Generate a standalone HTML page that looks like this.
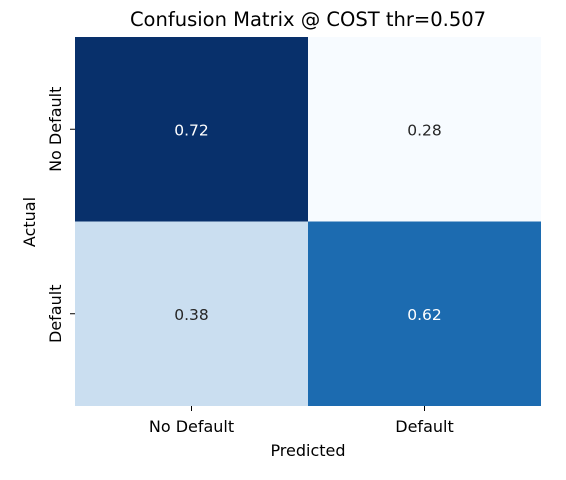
<!DOCTYPE html>
<html><head><meta charset="utf-8"><style>
body{margin:0;background:#fff;}
svg text{font-family:"DejaVu Sans","Liberation Sans",sans-serif;}
</style></head><body>
<svg id="chart" width="566" height="475">
<text x="308" y="26" text-anchor="middle" font-size="19.5" fill="#000">Confusion Matrix @ COST thr=0.507</text>
<g id="cells"></g>
<g id="axes"></g>
<text x="308" y="456" text-anchor="middle" font-size="16">Predicted</text>
<text transform="translate(35,222) rotate(-90)" text-anchor="middle" font-size="16">Actual</text>
</svg>
<script>
const categories=["No Default","Default"];
const values=[[0.72,0.28],[0.38,0.62]];
const labels=["0.72","0.28","0.38","0.62"];
const X0=75,Y0=37,W=466,H=369;
const blues=["#f7fbff","#deebf7","#c6dbef","#9ecae1","#6baed6","#4292c6","#2171b5","#08519c","#08306b"];
function hex(c){return [1,3,5].map(i=>parseInt(c.substr(i,2),16));}
function cmap(t){t=Math.max(0,Math.min(1,t));const p=t*8,i=Math.min(7,Math.floor(p)),f=p-i;const a=hex(blues[i]),b=hex(blues[i+1]);return "rgb("+a.map((v,k)=>Math.round(v+(b[k]-v)*f)).join(",")+")";}
const flat=values.flat();const vmin=Math.min(...flat),vmax=Math.max(...flat);
const n=categories.length,cw=W/n,ch=H/n;
function xs(j){return X0+j*cw;}function ys(i){return Y0+i*ch;}
const NS="http://www.w3.org/2000/svg";
const cells=document.getElementById('cells'),axes=document.getElementById('axes');
for(let i=0;i<n;i++)for(let j=0;j<n;j++){
 const v=values[i][j],t=(v-vmin)/(vmax-vmin);
 const r=document.createElementNS(NS,'rect');
 r.setAttribute('x',xs(j));r.setAttribute('y',ys(i));r.setAttribute('width',cw);r.setAttribute('height',ch);r.setAttribute('fill',cmap(t));
 
 
 cells.appendChild(r);
 const tx=document.createElementNS(NS,'text');
 tx.setAttribute('x',xs(j)+cw/2);tx.setAttribute('y',ys(i)+ch/2+6);tx.setAttribute('text-anchor','middle');tx.setAttribute('font-size','15.5');
 tx.setAttribute('fill',t>0.5?'#fff':'#262626');tx.textContent=labels[i*n+j];
 
 
 cells.appendChild(tx);
}
for(let k=0;k<n;k++){
 const cx=xs(k)+cw/2,cy=ys(k)+ch/2;
 const tk=document.createElementNS(NS,'line');
 tk.setAttribute('x1',cx);tk.setAttribute('x2',cx);tk.setAttribute('y1',Y0+H);tk.setAttribute('y2',Y0+H+5);tk.setAttribute('stroke','#000');
 
 
 axes.appendChild(tk);
 const tl=document.createElementNS(NS,'text');
 tl.setAttribute('x',cx);tl.setAttribute('y',Y0+H+26);tl.setAttribute('text-anchor','middle');tl.setAttribute('font-size','16');tl.textContent=categories[k];
 
 
 axes.appendChild(tl);
 const yk=document.createElementNS(NS,'line');
 yk.setAttribute('x1',X0-5);yk.setAttribute('x2',X0);yk.setAttribute('y1',cy);yk.setAttribute('y2',cy);yk.setAttribute('stroke','#000');
 
 
 axes.appendChild(yk);
 const yl=document.createElementNS(NS,'text');
 yl.setAttribute('transform','translate('+(X0-14)+','+cy+') rotate(-90)');yl.setAttribute('text-anchor','middle');yl.setAttribute('font-size','16');yl.textContent=categories[k];
 
 
 axes.appendChild(yl);
}
</script>
</body></html>
